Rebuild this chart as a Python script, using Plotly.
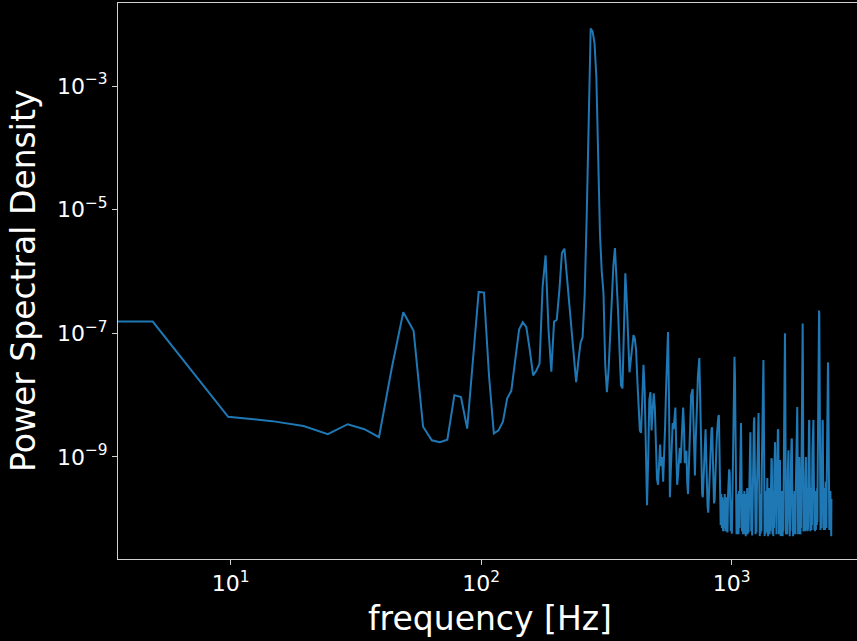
import numpy as np
import plotly.graph_objects as go

# Welch spectrum: sampling rate and segment length (bin spacing fs/nperseg)
fs = 5000.0
nperseg = 1024

# log10 of the power spectral density, bins 0..99
psd_log10_low = [
    -6.81, -6.81, -8.35, -8.42, -8.50, -8.63, -8.47, -8.55, -8.68, -7.56,
    -6.66, -6.96, -8.51, -8.73, -8.76, -8.72, -8.00, -8.03, -8.54, -7.34,
    -6.33, -6.34, -7.69, -8.62, -8.57, -8.43, -8.05, -7.93, -7.43, -6.94,
    -6.82, -6.90, -7.27, -7.68, -7.60, -7.49, -6.25, -5.74, -6.93, -7.62,
    -6.81, -6.78, -6.30, -5.70, -5.63, -6.06, -6.55, -6.95, -7.43, -7.79,
    -7.45, -7.16, -7.06, -6.38, -5.09, -3.55, -2.07, -2.12, -2.30, -2.85,
    -4.30, -5.40, -6.00, -6.35, -7.50, -7.95, -7.60, -6.95, -6.38, -5.90,
    -5.62, -6.06, -6.62, -7.27, -7.84, -7.89, -6.95, -6.03, -6.46, -7.11,
    -7.63, -7.43, -7.19, -7.03, -7.08, -7.27, -7.76, -8.16, -8.57, -8.61,
    -8.08, -7.51, -7.92, -8.89, -9.78, -9.05, -8.08, -7.95, -8.57, -8.24,
]

# bins 100..199
psd_log10_mid = [
    -7.97, -8.20, -8.90, -9.35, -9.45, -8.95, -8.80, -9.15, -9.00, -9.40,
    -9.00, -8.50, -7.90, -7.30, -6.98, -8.00, -9.65, -9.20, -8.70, -8.45,
    -8.55, -8.30, -8.20, -8.90, -9.45, -9.30, -9.00, -8.85, -9.10, -8.70,
    -8.35, -8.20, -8.50, -9.10, -9.00, -8.90, -9.40, -9.60, -9.20, -8.80,
    -8.30, -8.00, -7.95, -7.90, -8.40, -9.00, -9.30, -8.75, -8.50, -8.10,
    -7.70, -7.45, -7.40, -7.90, -8.60, -9.20, -9.60, -9.65, -9.30, -8.90,
    -8.60, -8.55, -9.00, -9.50, -9.80, -9.90, -9.60, -9.30, -9.00, -8.70,
    -8.55, -8.52, -9.00, -9.50, -9.75, -9.70, -9.30, -9.00, -8.80, -8.60,
    -8.40, -8.35, -8.32, -8.80, -9.40, -10.10, -9.60, -10.15, -9.65, -10.20,
    -9.70, -10.15, -9.60, -10.20, -9.70, -9.65, -10.15, -10.22, -9.60, -9.30,
]

# bins 200..512
psd_log10_high = [
    -9.20, -9.26, -9.85, -10.20, -9.70, -10.24, -9.70, -8.90, -8.10, -7.60,
    -7.38, -7.70, -8.60, -9.60, -10.25, -9.65, -10.22, -9.60, -10.25, -9.55,
    -10.15, -9.40, -8.80, -8.45, -9.20, -10.20, -9.65, -10.25, -9.60, -10.22,
    -9.55, -10.25, -9.65, -10.28, -9.60, -10.20, -9.50, -10.25, -9.70, -10.22,
    -9.60, -9.10, -8.70, -8.60, -9.30, -10.20, -9.65, -10.27, -9.60, -9.30,
    -8.80, -8.45, -8.36, -9.00, -9.90, -10.25, -9.60, -10.22, -9.55, -9.00,
    -8.60, -8.35, -8.29, -8.90, -9.80, -10.28, -9.65, -10.24, -9.60, -10.20,
    -9.20, -8.40, -7.70, -7.45, -7.43, -8.20, -9.40, -10.28, -9.65, -10.25,
    -9.55, -10.22, -9.70, -9.45, -9.34, -9.90, -10.28, -9.60, -10.22, -9.50,
    -10.25, -9.65, -10.20, -9.55, -9.20, -9.02, -9.05, -9.60, -10.25, -9.65,
    -10.28, -9.55, -10.15, -9.20, -8.80, -8.76, -9.30, -10.22, -9.60, -10.25,
    -9.50, -9.10, -8.70, -8.55, -8.58, -9.40, -10.25, -9.60, -9.10, -9.05,
    -9.80, -10.28, -9.65, -10.25, -9.55, -10.20, -9.65, -10.28, -9.60, -10.20,
    -9.40, -8.60, -7.60, -7.05, -7.00, -7.80, -9.20, -10.25, -9.60, -10.22,
    -9.55, -10.25, -9.65, -9.20, -8.90, -8.89, -9.50, -10.25, -9.60, -10.28,
    -9.55, -10.20, -9.60, -9.10, -8.75, -8.70, -8.72, -9.40, -10.25, -9.65,
    -10.28, -9.60, -10.22, -9.70, -10.25, -9.55, -10.20, -9.65, -10.25, -9.50,
    -9.00, -8.60, -8.30, -8.20, -8.19, -8.80, -9.80, -10.25, -9.55, -10.20,
    -9.40, -9.00, -9.30, -10.22, -9.60, -10.25, -9.50, -10.15, -9.40, -8.80,
    -7.90, -7.20, -6.90, -6.84, -7.50, -8.90, -10.20, -9.60, -10.18, -9.50,
    -10.15, -9.60, -10.20, -9.35, -9.05, -9.00, -9.60, -10.18, -9.55, -10.15,
    -9.50, -10.20, -9.60, -10.15, -9.40, -8.90, -8.55, -8.40, -8.42, -9.20,
    -10.18, -9.60, -10.20, -9.50, -10.15, -9.65, -10.18, -9.55, -10.10, -9.30,
    -8.90, -8.55, -8.40, -8.41, -8.40, -9.10, -10.15, -9.55, -10.18, -9.60,
    -10.20, -9.55, -10.10, -9.65, -10.18, -9.60, -10.05, -9.55, -10.10, -9.50,
    -10.05, -9.30, -8.60, -7.70, -7.00, -6.70, -6.64, -6.63, -6.70, -7.60,
    -9.00, -10.15, -9.55, -10.18, -9.50, -10.10, -9.60, -10.15, -9.45, -9.00,
    -8.60, -8.42, -8.40, -8.45, -9.20, -10.15, -9.55, -10.18, -9.60, -10.10,
    -9.50, -10.15, -9.60, -10.18, -9.50, -10.05, -9.40, -10.12, -9.60, -10.15,
    -9.50, -9.00, -8.30, -7.80, -7.55, -7.48, -7.47, -7.60, -8.50, -9.60,
    -10.12, -9.60, -10.18, -9.55, -10.10, -9.65, -10.15, -9.55, -10.12, -9.70,
    -10.15, -10.28, -9.68,
]

x_tick_vals = [10, 100, 1000]
x_tick_text = ["10<sup>1</sup>", "10<sup>2</sup>", "10<sup>3</sup>"]
y_tick_vals = [1e-9, 1e-7, 1e-5, 1e-3]
y_tick_text = ["10<sup>\u22129</sup>", "10<sup>\u22127</sup>",
               "10<sup>\u22125</sup>", "10<sup>\u22123</sup>"]

psd = 10.0 ** np.array(psd_log10_low + psd_log10_mid + psd_log10_high)
freqs = np.arange(len(psd)) * fs / nperseg
# like a clipped log axis: the 0 Hz bin is pushed far off to the left
freqs_plot = np.where(freqs > 0, freqs, 1e-300)

fig = go.Figure()
fig.add_trace(go.Scatter(
    x=freqs_plot, y=psd, mode="lines",
    line=dict(color="#1f77b4", width=2),
    hoverinfo="skip",
))

axis_col = "#d0d0d0"
fig.update_layout(
    width=857, height=641,
    margin=dict(l=118, r=0, t=3, b=82),
    paper_bgcolor="black", plot_bgcolor="black",
    showlegend=False,
    font=dict(family="DejaVu Sans", color="white"),
)
fig.update_xaxes(
    type="log", range=[0.550, 3.500],
    showgrid=False, zeroline=False,
    showline=True, linecolor=axis_col, linewidth=1, mirror=True,
    ticks="outside", ticklen=5, tickwidth=1, tickcolor=axis_col,
    tickvals=x_tick_vals, ticktext=x_tick_text,
    tickfont=dict(family="DejaVu Sans", size=22, color="white"),
)
fig.update_yaxes(
    type="log", range=[-10.65, -1.657],
    showgrid=False, zeroline=False,
    showline=True, linecolor=axis_col, linewidth=1, mirror=False,
    ticks="outside", ticklen=5, tickwidth=1, tickcolor=axis_col,
    tickvals=y_tick_vals, ticktext=y_tick_text,
    tickfont=dict(family="DejaVu Sans", size=22, color="white"),
)
fig.add_annotation(
    text="frequency [Hz]", xref="paper", yref="paper",
    x=(490 - 118) / 739, y=-(618 - 559) / 556,
    xanchor="center", yanchor="middle", showarrow=False,
    font=dict(family="DejaVu Sans", size=33, color="white"),
)
fig.add_annotation(
    text="Power Spectral Density", xref="paper", yref="paper",
    x=-(118 - 23) / 739, y=0.5, textangle=-90,
    xanchor="center", yanchor="middle", showarrow=False,
    font=dict(family="DejaVu Sans", size=33, color="white"),
)

fig.write_html("out.html")
